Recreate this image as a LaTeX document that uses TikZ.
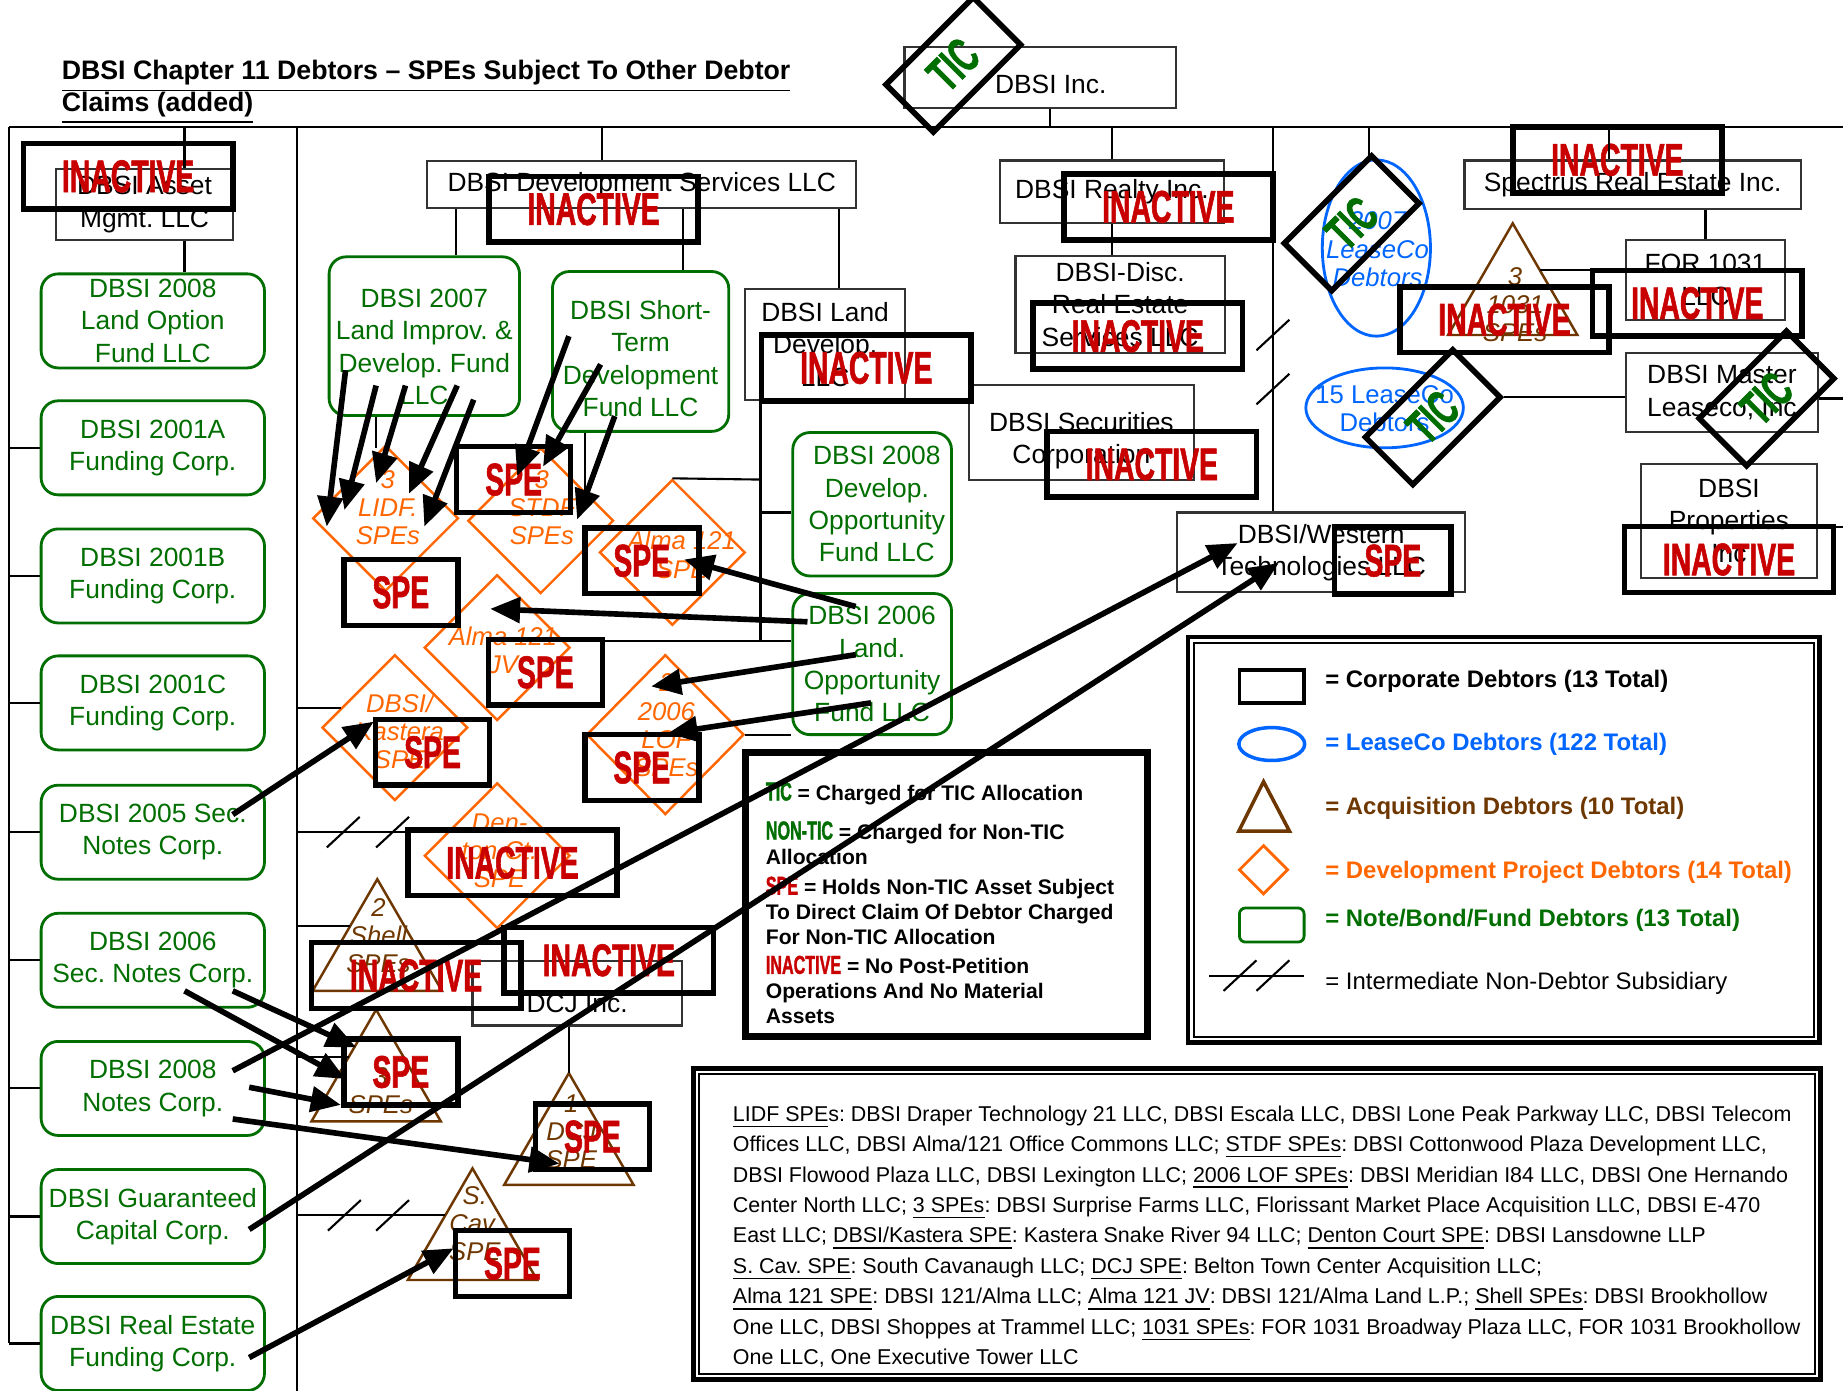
\documentclass[tikz,border=0pt]{standalone}
\usepackage{fontspec}
\setmainfont{Liberation Sans}
\newfontfamily\condfont[FakeStretch=0.62,BoldFeatures={FakeBold=1.2}]{Liberation Sans}
\usetikzlibrary{shapes.geometric,arrows.meta}

\definecolor{ngreen}{RGB}{0,110,0}
\definecolor{dorange}{RGB}{255,102,0}
\definecolor{abrown}{RGB}{110,55,0}
\definecolor{lblue}{RGB}{0,102,255}
\definecolor{ired}{RGB}{200,0,0}

\newcommand{\lbl}[2]{{\color{#1}\fontsize{7.4}{7}\selectfont\condfont\bfseries #2}}

\begin{document}
\frenchspacing
\begin{tikzpicture}[x=0.01175cm, y=-0.01175cm,
    wh/.style 2 args={minimum width=#1*0.01175cm, minimum height=#2*0.01175cm},
    corp/.style={draw=black!80, line width=0.6pt, inner sep=0pt, align=center, font=\fontsize{7.5}{9.2}\selectfont},
    fund/.style={corp, draw=ngreen, line width=0.8pt, rounded corners=0.17cm, text=ngreen},
    ftxt/.style={align=center, inner sep=0pt, text=ngreen, font=\fontsize{7.5}{9.2}\selectfont},
    devp/.style={draw=dorange, line width=0.7pt, diamond, inner sep=0pt, wh={124}{124}},
    itxt/.style={align=center, inner sep=0pt, font=\fontsize{7.3}{8}\selectfont\itshape},
    inact/.style={draw, line width=1.6pt, inner sep=0pt, wh={178}{56}, text=ired, font=\fontsize{13}{13}\selectfont\condfont\bfseries},
    spe/.style={inact, wh={97}{56}},
    tic/.style={draw, line width=1.6pt, inner sep=0pt, wh={105}{57}, rotate=45, text=ngreen, font=\fontsize{14}{14}\selectfont\condfont\bfseries},
    link/.style={line width=0.6pt},
    arr/.style={line width=1.6pt, -{Triangle[length=0.3cm,width=0.25cm]}},
    nd/.pic={\draw[line width=0.6pt] (-14,13) -- (14,-13);},
    acqtri/.pic={\draw[abrown, line width=0.7pt] (0,0) -- (55,95) -- (-55,95) -- cycle;
                 \coordinate (-l) at (-23,40); \coordinate (-r) at (23,40); \coordinate (-top) at (0,0);},
  ]
  \fill[white] (0,0) rectangle (1568,1183);
  \useasboundingbox (0,0) rectangle (1568,1183);

  % title
  \node[anchor=west, inner sep=0pt, font=\fontsize{7.6}{9}\selectfont\bfseries] (title1) at (52,65) {\underline{DBSI Chapter 11 Debtors – SPEs Subject To Other Debtor}};
  \node[anchor=west, inner sep=0pt, font=\fontsize{7.6}{9}\selectfont\bfseries] (title2) at (52,92) {\underline{Claims (added)}};

  % corporate debtors
  \node[corp, wh={231}{52}, text height=0.33cm, text depth=0.02cm] (inc) at (885,66) {\hspace*{0.21cm}DBSI Inc.};
  \node[corp, wh={150}{60}] (asset) at (123,174) {DBSI Asset\\Mgmt. LLC};
  \node[corp, wh={365}{40}] (devsvc) at (546,157) {DBSI Development Services LLC};
  \node[corp, wh={136}{95}] (land) at (702,293) {DBSI Land\\Develop.\\LLC};
  \node[corp, wh={191}{53}] (realty) at (946,163) {DBSI Realty Inc.};
  \node[corp, wh={178}{83}] (disc) at (953,259) {DBSI-Disc.\\Real Estate\\Services LLC};
  \node[corp, wh={191}{81}] (secur) at (920,368) {};
  \node[corp, draw=none] (secur-t) at (920,375) {DBSI Securities\\Corporation};
  \node[corp, wh={245}{68}] (western) at (1124,470) {DBSI/Western\\Technologies LLC};
  \node[corp, wh={286}{41}] (spectrus) at (1389,157) {Spectrus Real Estate Inc.};
  \node[corp, wh={136}{68}] (for1031) at (1451,238) {FOR 1031\\LLC};
  \node[corp, wh={163}{67}] (master) at (1465,334) {DBSI Master\\Leaseco, Inc};
  \node[corp, wh={150}{97}] (props) at (1471,443) {DBSI\\Properties\\Inc};
  \node[corp, wh={178}{55}, text height=0.38cm, text depth=0cm] (dcj) at (491,845) {DCJ Inc.};

  % note / bond / fund debtors
  \foreach \n/\y/\t in {lof/273/{DBSI 2008\\Land Option\\Fund LLC}, fa/381/{DBSI 2001A\\Funding Corp.},
      fb/490/{DBSI 2001B\\Funding Corp.}, fc/598/{DBSI 2001C\\Funding Corp.}, sn5/708/{DBSI 2005 Sec.\\Notes Corp.},
      sn6/817/{DBSI 2006\\Sec. Notes Corp.}, n8/926/{DBSI 2008\\Notes Corp.}, gcc/1035/{DBSI Guaranteed\\Capital Corp.},
      ref/1143/{DBSI Real Estate\\Funding Corp.}}
    \node[fund, wh={190}{80}] (\n) at (130,\y) {\t};
  \node[fund, wh={162}{135}] (lid07) at (361,286) {};
  \node[ftxt] (lid07-t) at (361,295) {DBSI 2007\\Land Improv. \&\\Develop. Fund\\LLC};
  \node[fund, wh={150}{136}] (stdf) at (545,299) {};
  \node[ftxt] (stdf-t) at (545,305) {DBSI Short-\\Term\\Development\\Fund LLC};
  \node[fund, wh={135}{122}] (dof08) at (742,429) {};
  \node[ftxt] (dof08-t) at (746,429) {DBSI 2008\\Develop.\\Opportunity\\Fund LLC};
  \node[fund, wh={135}{120}] (lof06) at (742,565) {DBSI 2006\\Land.\\Opportunity\\Fund LLC};

  % development project debtors
  \node[devp] (lidf) at (328,441) {};
  \node[devp] (stdfd) at (460,443) {};
  \node[devp] (alma) at (572,470) {};
  \node[devp] (almajv) at (423,551) {};
  \node[devp] (kast) at (336,619) {};
  \node[devp, wh={134}{136}] (lofd) at (566,625) {};
  \node[devp] (dent) at (423,728) {};
  \node[itxt, text=dorange] (lidf-t) at (330,432) {3\\LIDF.\\SPEs};
  \node[itxt, text=dorange] (stdf-t2) at (461,432) {3\\STDF\\SPEs};
  \node[itxt, text=dorange] (alma-t) at (580,472) {Alma 121\\SPE};
  \node[itxt, text=dorange] (jv-t) at (428,553) {Alma 121\\JV};
  \node[itxt, text=dorange] (kast-t) at (340,622) {DBSI/\\Kastera\\SPE};
  \node[itxt, text=dorange] (lof-t) at (567,617) {2\\2006\\LOF\\SPEs};
  \node[itxt, text=dorange] (dent-t) at (425,724) {Den-\\ton Ct.\\SPE};

  % acquisition debtors
  \pic (t1031) at (1287,190) {acqtri};
  \pic (shell) at (321,748) {acqtri};
  \pic (spes3) at (320,859) {acqtri};
  \pic (dcjt) at (484,913) {acqtri};
  \pic (scav) at (402,994) {acqtri};
  \node[itxt, text=abrown] (t1031-t) at (1289,259) {3\\1031\\SPEs};
  \node[itxt, text=abrown] (shell-t) at (322,796) {2\\Shell\\SPEs};
  \node[itxt, text=abrown] (spes3-t) at (324,928) {3\\SPEs};
  \node[itxt, text=abrown] (dcjt-t) at (486,963) {1\\DCJ\\SPE};
  \node[itxt, text=abrown] (scav-t) at (404,1041) {S.\\Cav.\\SPE};

  % leaseco debtors
  \node[draw=lblue, line width=0.8pt, ellipse, wh={92}{150}, inner sep=0pt] (lc07) at (1171,211) {};
  \node[draw=lblue, line width=0.8pt, ellipse, wh={134}{68}, inner sep=0pt] (lc15) at (1178,347) {};
  \node[itxt, text=lblue] (lc07-t) at (1172,212) {2007\\LeaseCo\\Debtors};
  \node[itxt, text=lblue, font=\fontsize{7.3}{8}\selectfont] (lc15-t) at (1178,348) {15 LeaseCo\\Debtors};

  % inactive marks
  \node[inact] (assetIN) at (109,150) {INACTIVE};
  \node[inact] (devIN) at (505,178) {INACTIVE};
  \node[inact] (landIN) at (737,313) {INACTIVE};
  \node[inact] (realtyIN) at (994,176) {INACTIVE};
  \node[inact] (discIN) at (968,286) {INACTIVE};
  \node[inact] (securIN) at (980,395) {INACTIVE};
  \node[inact] (spectrusIN) at (1376,136) {INACTIVE};
  \node[inact] (t1031IN) at (1280,272) {INACTIVE};
  \node[inact] (forIN) at (1444,258) {INACTIVE};
  \node[inact] (propsIN) at (1471,476) {INACTIVE};
  \node[inact] (dentIN) at (436,734) {INACTIVE};
  \node[inact] (shellIN) at (354,830) {INACTIVE};
  \node[inact] (dcjIN) at (518,817) {INACTIVE};

  % spe marks
  \node[spe] (lidfSPE) at (341,504) {SPE};
  \node[spe] (stdfSPE) at (437,408) {SPE};
  \node[spe] (almaSPE) at (546,477) {SPE};
  \node[spe] (jvSPE) at (464,572) {SPE};
  \node[spe] (kastSPE) at (368,640) {SPE};
  \node[spe] (lofSPE) at (546,653) {SPE};
  \node[spe, wh={99}{57}] (westSPE) at (1185,477) {SPE};
  \node[spe] (spes3SPE) at (341,912) {SPE};
  \node[spe] (dcjSPE) at (504,967) {SPE};
  \node[spe] (scavSPE) at (436,1075) {SPE};

  % tic marks
  \node[tic] (tic1) at (811,55) {TIC};
  \node[tic] (tic2) at (1150,190) {TIC};
  \node[tic] (tic3) at (1219,355) {TIC};
  \node[tic] (tic4) at (1503,339) {TIC};

  % ownership lines
  \draw[link] (8,108) -- (1568,108);
  \draw[link] (8,108) -- (8,1143);
  \draw[link] (253,108) -- (253,1183);
  \draw[link] (inc.south -| 893,0) -- (893,108);
  \draw[link] (asset.north -| 157,0) -- (157,108);
  \draw[link] (asset.south -| 157,0) -- (lof.north -| 157,0);
  \foreach \n in {fa,fb,fc,sn5,sn6,n8,gcc,ref}
    \draw[link] (\n.west) -- (\n.west -| 8,0);
  \draw[link] (devsvc.north -| 512,0) -- (512,108);
  \draw[link] (devsvc.south -| 388,0) -- (lid07.north -| 388,0);
  \draw[link] (devsvc.south -| 581,0) -- (stdf.north -| 581,0);
  \draw[link] (devsvc.south -| 714,0) -- (land.north -| 714,0);
  \draw[link] (lid07.south -| 320,0) -- (320,381);
  \draw[link] (stdf.south -| 498,0) -- (498,421);
  \draw[link] (land.south -| 647,0) -- (647,545);
  \draw[link] (alma.north) -- (647,408);
  \draw[link] (647,436) -- (dof08.west |- 0,436);
  \draw[link] (jvSPE.east |- 0,545) -- (lof06.west |- 0,545);
  \draw[link] (lofd.east) -- (lof06.west |- lofd.east);
  \draw[link] (realty.north) -- (946,108);
  \draw[link] (realty.south) -- (realty.south |- disc.north);
  \draw[link] (1083,108) -- (western.north -| 1083,0);
  \pic at (1083,285) {nd};
  \pic at (1083,331) {nd};
  \draw[link] (lc07.north -| 1165,0) -- (1165,108);
  \draw[link] (spectrus.north -| 1369,0) -- (1369,108);
  \draw[link] (spectrus.south -| for1031.north) -- (for1031.north);
  \draw[link] (t1031-r) -- (t1031-r -| for1031.west);
  \draw[link] (tic3.south east) -- (tic3.south east -| master.west);
  \draw[link] (master.east |- 0,339) -- (1568,339);
  \draw[link] (props.east |- 0,448) -- (1568,448);
  \draw[link] (kast.160 -| 253,0) -- (kast.160);
  \draw[link] (253,708) -- (dentIN.north west |- 0,708);
  \pic at (292,708) {nd};
  \pic at (334,708) {nd};
  \draw[link] (shell-l -| 253,0) -- (shell-l);
  \draw[link] (spes3-l -| 253,0) -- (spes3-l);
  \draw[link] (scav-l -| 253,0) -- (scav-l);
  \pic at (293,1034) {nd};
  \pic at (334,1034) {nd};
  \draw[link] (dcjt-top |- dcj.south) -- (dcjt-top);

  % legend of marks
  \node[draw, line width=2pt, wh={342}{242}] (ticleg) at (805,761) {};
  \node[anchor=north west, inner sep=0pt, align=left, font=\fontsize{6}{7.1}\selectfont\bfseries] (ticleg-t) at (651,665) {%
    \lbl{ngreen}{TIC} = Charged for TIC Allocation\\[4pt]
    \lbl{ngreen}{NON-TIC} = Charged for Non-TIC\\
    Allocation\\[1.5pt]
    \lbl{ired}{SPE} = Holds Non-TIC Asset Subject\\
    To Direct Claim Of Debtor Charged\\
    For Non-TIC Allocation\\[1.2pt]
    \lbl{ired}{INACTIVE} = No Post-Petition\\
    Operations And No Material\\
    Assets};

  % legend of shapes
  \node[draw, line width=1.2pt, wh={537}{345}] (legbox) at (1279.5,714.5) {};
  \node[draw, line width=0.5pt, wh={527}{335}] (legin) at (1279.5,714.5) {};
  \node[draw, line width=1pt, wh={55}{28}, inner sep=0pt] (lg-corp) at (1082,584) {};
  \node[draw=lblue, line width=1pt, ellipse, wh={56}{28}, inner sep=0pt] (lg-lease) at (1082,633) {};
  \draw[abrown, line width=1pt] (1075,665) -- (1097,707) -- (1054,707) -- cycle;
  \node[draw=dorange, line width=0.8pt, diamond, wh={42}{42}, inner sep=0pt] (lg-dev) at (1075,740) {};
  \node[fund, wh={55}{29}, rounded corners=0.06cm] (lg-fund) at (1082,787) {};
  \draw[link] (1029,830) -- (1109,830);
  \pic at (1055,830) {nd};
  \pic at (1083,830) {nd};
  \node[anchor=west, inner sep=0pt, font=\fontsize{6.8}{8}\selectfont\bfseries] (lt1) at (1127,580) {= Corporate Debtors (13 Total)};
  \node[anchor=west, inner sep=0pt, font=\fontsize{6.8}{8}\selectfont\bfseries, text=lblue] (lt2) at (1127,633) {= LeaseCo Debtors (122 Total)};
  \node[anchor=west, inner sep=0pt, font=\fontsize{6.8}{8}\selectfont\bfseries, text=abrown] (lt3) at (1127,688) {= Acquisition Debtors (10 Total)};
  \node[anchor=west, inner sep=0pt, font=\fontsize{6.8}{8}\selectfont\bfseries, text=dorange] (lt4) at (1127,742) {= Development Project Debtors (14 Total)};
  \node[anchor=west, inner sep=0pt, font=\fontsize{6.8}{8}\selectfont\bfseries, text=ngreen] (lt5) at (1127,783) {= Note/Bond/Fund Debtors (13 Total)};
  \node[anchor=west, inner sep=0pt, font=\fontsize{6.8}{8}\selectfont] (lt6) at (1127,837) {= Intermediate Non-Debtor Subsidiary};

  % spe names
  \node[draw, line width=1.4pt, wh={959}{265}] (notebox) at (1069.5,1041.5) {};
  \node[draw, line width=0.5pt, wh={949}{255}] (notein) at (1069.5,1041.5) {};
  \node[anchor=north west, inner sep=0pt, align=left, font=\fontsize{6.1}{8.66}\selectfont] (notes) at (623,940) {%
    \underline{LIDF SPE}s: DBSI Draper Technology 21 LLC, DBSI Escala LLC, DBSI Lone Peak Parkway LLC, DBSI Telecom\\
    Offices LLC, DBSI Alma/121 Office Commons LLC; \underline{STDF SPEs}: DBSI Cottonwood Plaza Development LLC,\\
    DBSI Flowood Plaza LLC, DBSI Lexington LLC; \underline{2006 LOF SPEs}: DBSI Meridian I84 LLC, DBSI One Hernando\\
    Center North LLC; \underline{3 SPEs}: DBSI Surprise Farms LLC, Florissant Market Place Acquisition LLC, DBSI E-470\\
    East LLC; \underline{DBSI/Kastera SPE}: Kastera Snake River 94 LLC; \underline{Denton Court SPE}: DBSI Lansdowne LLP\\
    \underline{S. Cav. SPE}: South Cavanaugh LLC; \underline{DCJ SPE}: Belton Town Center Acquisition LLC;\\
    \underline{Alma 121 SPE}: DBSI 121/Alma LLC; \underline{Alma 121 JV}: DBSI 121/Alma Land L.P.; \underline{Shell SPEs}: DBSI Brookhollow\\
    One LLC, DBSI Shoppes at Trammel LLC; \underline{1031 SPEs}: FOR 1031 Broadway Plaza LLC, FOR 1031 Brookhollow\\
    One LLC, One Executive Tower LLC};

  % claim arrows
  \foreach \n/\xa/\ya/\xb/\yb in {a1/294/315/278/448, a2/320/328/293/434, a3/345/328/320/411,
      a4/389/328/348/420, a5/403/340/361/448, b1/484/286/440/405, b2/511/310/462/397, b3/523/354/491/442,
      c1/728/516/582/476, c2/687/529/417/518, c3/728/557/554/584, c4/741/598/568/624,
      e1/198/693/318/614, l1/157/843/294/918, l2/198/843/303/891, l3/198/911/1053/462,
      l4/212/925/290/940, l5/198/952/476/990, l6/212/1046/1088/479, l7/212/1155/386/1062}{
    \coordinate (\n-s) at (\xa,\ya);
    \coordinate (\n-e) at (\xb,\yb);
  }
  \foreach \n in {a1,a2,a3,a4,a5,b1,b2,b3,c1,c2,c3,c4,e1,l1,l2,l3,l4,l5,l6,l7}
    \draw[arr] (\n-s) -- (\n-e);
\end{tikzpicture}
\end{document}
